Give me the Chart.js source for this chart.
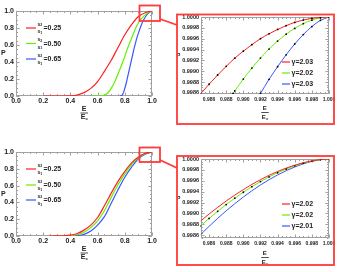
<!DOCTYPE html>
<html><head><meta charset="utf-8">
<script src="https://cdn.jsdelivr.net/npm/chart.js@4"></script>
<style>
html,body{margin:0;padding:0;background:#fff;}
#wrap{position:relative;width:340px;height:272px;overflow:hidden;background:#fff;}
canvas{position:absolute;}
svg{position:absolute;left:0;top:0;pointer-events:none;}
</style></head><body>
<div id="wrap">
<canvas id="c1" width="170" height="136" style="left:0;top:0"></canvas>
<canvas id="c2" width="170" height="136" style="left:170px;top:0"></canvas>
<canvas id="c3" width="170" height="136" style="left:0;top:136px"></canvas>
<canvas id="c4" width="170" height="136" style="left:170px;top:136px"></canvas>
<svg width="340" height="272" viewBox="0 0 340 272">
  <g fill="none" stroke="#ff3a3a" stroke-width="1.8">
    <rect x="139.5" y="5.5" width="20.5" height="15.5"/>
    <line x1="160" y1="19" x2="177" y2="25"/>
    <rect x="177" y="14.5" width="157" height="109.5"/>
    <rect x="139.5" y="147.5" width="20.5" height="14.5"/>
    <line x1="160" y1="160" x2="177" y2="168"/>
    <rect x="177" y="156" width="157" height="109"/>
  </g>
</svg>
</div>
<script>
// ---------- data ----------
const mainXTicks = [0.0, 0.2, 0.4, 0.6, 0.8, 1.0];
const mainYTicks = [0.0, 0.2, 0.4, 0.6, 0.8, 1.0];
const insetXTicks = [0.986, 0.988, 0.990, 0.992, 0.994, 0.996, 0.998, 1.000];
const insetYTicks = [0.9986, 0.9988, 0.9990, 0.9992, 0.9994, 0.9996, 0.9998, 1.0000];

const ratioLabels = ['=0.25', '=0.50', '=0.65'];
const gammaTop = ['\u03b3=2.03', '\u03b3=2.02', '\u03b3=2.03'];
const gammaBottom = ['\u03b3=2.02', '\u03b3=2.02', '\u03b3=2.01'];

// top-left panel
const tlRedE = [0.2, 0.3, 0.4, 0.45, 0.5, 0.55, 0.6, 0.65, 0.7, 0.75, 0.8, 0.85, 0.9, 0.95, 1.0];
const tlRedP = [0, 0, 0.002, 0.012, 0.04, 0.09, 0.17, 0.29, 0.42, 0.57, 0.72, 0.84, 0.935, 0.98, 1.0];
const tlGreenE = [0.557, 0.6, 0.64, 0.67, 0.7, 0.73, 0.76, 0.79, 0.82, 0.85, 0.88, 0.91, 0.94, 0.97, 1.0];
const tlGreenP = [0, 0, 0.005, 0.03, 0.09, 0.18, 0.3, 0.42, 0.56, 0.68, 0.8, 0.885, 0.94, 0.98, 1.0];
const tlBlueE = [0.765, 0.78, 0.79, 0.8, 0.81, 0.82, 0.83, 0.84, 0.85, 0.86, 0.87, 0.88, 0.89, 0.9, 0.92, 0.94, 0.96, 0.98, 1.0];
const tlBlueP = [0, 0.01, 0.04, 0.09, 0.15, 0.22, 0.29, 0.36, 0.43, 0.5, 0.57, 0.63, 0.69, 0.74, 0.83, 0.9, 0.95, 0.985, 1.0];

// top-right inset
const trRedE = [0.985, 0.986, 0.987, 0.988, 0.989, 0.990, 0.991, 0.992, 0.993, 0.994, 0.995, 0.996, 0.997, 0.998, 0.999, 1.000];
const trRedP = [0.99858, 0.99876, 0.99893, 0.99909, 0.99924, 0.99937, 0.99949, 0.9996, 0.99969, 0.99977, 0.99984, 0.9999, 0.999943, 0.999975, 0.999994, 1.0];
const trGreenE = [0.9888, 0.989, 0.990, 0.991, 0.992, 0.993, 0.994, 0.995, 0.996, 0.997, 0.998, 0.999, 1.000];
const trGreenP = [0.99859, 0.998636, 0.998856, 0.999059, 0.999243, 0.999409, 0.999556, 0.999683, 0.99979, 0.999877, 0.999942, 0.999984, 1.0];
const trBlueE = [0.992, 0.993, 0.994, 0.995, 0.996, 0.997, 0.998, 0.999, 1.000];
const trBlueP = [0.99859, 0.99885, 0.999084, 0.999303, 0.999502, 0.999676, 0.999824, 0.999938, 1.0];

// bottom-left panel
const blRedE = [0.245, 0.3, 0.35, 0.4, 0.45, 0.5, 0.55, 0.6, 0.65, 0.7, 0.75, 0.8, 0.85, 0.9, 0.95, 1.0];
const blRedP = [0, 0.0003, 0.002, 0.01, 0.03, 0.07, 0.13, 0.22, 0.36, 0.51, 0.65, 0.77, 0.87, 0.94, 0.985, 1.0];
const blGreenE = [0.3, 0.35, 0.4, 0.45, 0.5, 0.55, 0.6, 0.65, 0.7, 0.75, 0.8, 0.85, 0.9, 0.95, 1.0];
const blGreenP = [0, 0.001, 0.004, 0.015, 0.045, 0.1, 0.18, 0.3, 0.46, 0.61, 0.74, 0.85, 0.93, 0.98, 1.0];
const blBlueE = [0.35, 0.4, 0.45, 0.5, 0.55, 0.6, 0.65, 0.7, 0.75, 0.8, 0.85, 0.9, 0.95, 1.0];
const blBlueP = [0, 0.001, 0.005, 0.02, 0.06, 0.13, 0.23, 0.39, 0.55, 0.7, 0.82, 0.92, 0.975, 1.0];

// bottom-right inset
const brE = [0.985, 0.986, 0.987, 0.988, 0.989, 0.990, 0.991, 0.992, 0.993, 0.994, 0.995, 0.996, 0.997, 0.998, 0.999, 1.000];
const brRedP = [0.99886, 0.99899, 0.999112, 0.999229, 0.999338, 0.999439, 0.999534, 0.99962, 0.9997, 0.999771, 0.999833, 0.999887, 0.999932, 0.999967, 0.99999, 1.0];
const brGreenP = [0.99877, 0.998909, 0.999039, 0.999164, 0.999281, 0.99939, 0.999492, 0.999585, 0.999671, 0.999748, 0.999816, 0.999875, 0.999924, 0.999962, 0.999989, 1.0];
const brBlueP = [0.99861, 0.998764, 0.99891, 0.999049, 0.99918, 0.999302, 0.999417, 0.999523, 0.99962, 0.999707, 0.999785, 0.999853, 0.99991, 0.999955, 0.999986, 1.0];

// ---------- styling ----------
const RED = '#ff1f1f', GREEN = '#66ee00', BLUE = '#3a55ff';
const FAM = '"Liberation Sans", Arial, sans-serif';
const pts = (xs, ys) => xs.map((v, i) => ({x: v, y: ys[i]}));

function ds(xs, ys, color, w, dots) {
  return {
    data: pts(xs, ys), borderColor: color, borderWidth: w, fill: false,
    cubicInterpolationMode: 'monotone',
    pointRadius: dots ? 0.9 : 0, pointBorderWidth: 0,
    pointBackgroundColor: '#000', pointHoverRadius: 0
  };
}

const frameTicks = {
  id: 'frameTicks',
  beforeDatasetsDraw(chart, args, o) {
    const {ctx, chartArea: a, scales: {x, y}} = chart;
    ctx.save();
    ctx.strokeStyle = '#a0a0a0';
    ctx.lineWidth = 1;
    const L = Math.round(a.left) + 0.5, R = Math.round(a.right) - 0.5;
    const T = Math.round(a.top) + 0.5, B = Math.round(a.bottom) - 0.5;
    ctx.strokeRect(L, T, R - L, B - T);
    ctx.beginPath();
    const seg = (x1, y1, x2, y2) => { ctx.moveTo(x1, y1); ctx.lineTo(x2, y2); };
    const xTick = (v, len) => { const p = Math.round(x.getPixelForValue(v)) + 0.5; seg(p, B, p, B - len); seg(p, T, p, T + len); };
    const yTick = (v, len) => { const p = Math.round(y.getPixelForValue(v)) + 0.5; seg(L, p, L + len, p); seg(R, p, R - len, p); };
    const eps = 1e-9;
    for (let k = Math.ceil(x.min / o.xMinor - eps); k * o.xMinor <= x.max + eps; k++) xTick(k * o.xMinor, 1.5);
    for (let k = Math.ceil(y.min / o.yMinor - eps); k * o.yMinor <= y.max + eps; k++) yTick(k * o.yMinor, 1.5);
    x.ticks.forEach(t => xTick(t.value, 3));
    y.ticks.forEach(t => yTick(t.value, 3));
    ctx.stroke();
    ctx.restore();
  }
};

const deco = {
  id: 'deco',
  afterDraw(chart, args, o) {
    const {ctx, chartArea: a} = chart;
    ctx.save();
    ctx.fillStyle = '#222';
    ctx.textBaseline = 'middle';
    // P label
    ctx.font = 'bold ' + o.pFont + 'px ' + FAM;
    ctx.textAlign = 'left';
    ctx.fillText('P', o.pX, (a.top + a.bottom) / 2);
    // fraction E / E_c
    const cx = (a.left + a.right) / 2;
    ctx.textAlign = 'center';
    ctx.font = 'bold ' + o.fFont + 'px ' + FAM;
    ctx.fillText('E', cx, a.bottom + o.fE);
    ctx.fillText('E', cx - 1, a.bottom + o.fEc);
    ctx.font = 'bold ' + (o.fFont * 0.6) + 'px ' + FAM;
    ctx.fillText('c', cx + 2.6, a.bottom + o.fEc + 1.5);
    ctx.strokeStyle = '#222'; ctx.lineWidth = 0.8;
    ctx.beginPath(); ctx.moveTo(cx - 3.5, a.bottom + o.fBar); ctx.lineTo(cx + 4, a.bottom + o.fBar); ctx.stroke();
    // legend
    const colors = [RED, GREEN, BLUE];
    o.legY.forEach((ly, i) => {
      ctx.strokeStyle = colors[i]; ctx.lineWidth = 1.2;
      ctx.beginPath(); ctx.moveTo(o.legX, ly); ctx.lineTo(o.legX + o.legLen, ly); ctx.stroke();
      let tx = o.legX + o.legLen + 1.5;
      ctx.textAlign = 'left';
      if (o.frac) {
        ctx.fillStyle = '#222';
        ctx.font = 'bold 5px ' + FAM;
        ctx.fillText('s', tx, ly - 3.5);
        ctx.fillText('s', tx, ly + 4);
        ctx.font = 'bold 3.5px ' + FAM;
        ctx.fillText('2', tx + 2.8, ly - 2.5);
        ctx.fillText('1', tx + 2.8, ly + 5);
        tx += 6;
      }
      ctx.fillStyle = '#222';
      ctx.font = 'bold ' + o.legFont + 'px ' + FAM;
      ctx.fillText(o.labels[i], tx, ly + 0.5);
    });
    ctx.restore();
  }
};

function makeChart(id, datasets, s) {
  new Chart(document.getElementById(id), {
    type: 'line',
    data: {datasets},
    plugins: [frameTicks, deco],
    options: {
      responsive: false, animation: false, devicePixelRatio: 1,
      layout: {padding: {left: 0, right: s.padR, top: s.padT, bottom: 0}},
      plugins: {legend: {display: false}, tooltip: {enabled: false},
        frameTicks: {xMinor: s.xMinor, yMinor: s.yMinor}, deco: s.deco},
      scales: {
        x: {
          type: 'linear', min: s.xMin, max: s.xMax,
          afterBuildTicks: sc => { sc.ticks = s.xTicks.map(v => ({value: v})); },
          afterFit: sc => { sc.height = s.xH; },
          grid: {display: false, drawTicks: false, tickLength: 0}, border: {display: false},
          ticks: {autoSkip: false, maxRotation: 0, padding: s.xPad, color: '#222',
            font: {family: FAM, size: s.xFont, weight: 'bold'},
            callback: v => Number(v).toFixed(s.xDec)}
        },
        y: {
          type: 'linear', min: s.yMin, max: s.yMax,
          afterBuildTicks: sc => { sc.ticks = s.yTicks.map(v => ({value: v})); },
          afterFit: sc => { sc.width = s.yW; },
          grid: {display: false, drawTicks: false, tickLength: 0}, border: {display: false},
          ticks: {autoSkip: false, padding: s.yPad, color: '#222',
            font: {family: FAM, size: s.yFont, weight: 'bold'},
            callback: v => Number(v).toFixed(s.yDec)}
        }
      }
    }
  });
}

const mainBase = {xMin: 0, xMax: 1, yMin: 0, yMax: 1, xTicks: mainXTicks, yTicks: mainYTicks,
  xMinor: 0.05, yMinor: 0.05, padR: 18, yW: 16, xPad: 1, yPad: 2, xFont: 7, yFont: 7, xDec: 1, yDec: 1};
const insetBase = {xMin: 0.985, xMax: 1.0, xTicks: insetXTicks, yTicks: insetYTicks,
  xMinor: 0.0005, yMinor: 0.00005, padR: 11, yW: 30.5, xPad: 3, yPad: 1.5, xFont: 5, yFont: 5.5, xDec: 3, yDec: 4};

makeChart('c1', [ds(tlRedE, tlRedP, RED, 1.2), ds(tlGreenE, tlGreenP, GREEN, 1.2), ds(tlBlueE, tlBlueP, BLUE, 1.2)],
  Object.assign({}, mainBase, {padT: 11, xH: 40,
    deco: {pX: 1, pFont: 7, fFont: 7, fE: 13, fBar: 17, fEc: 21.5, legX: 26, legLen: 10, legY: [28, 43.5, 59], legFont: 7, frac: true, labels: ratioLabels}}));

makeChart('c3', [ds(blRedE, blRedP, RED, 1.2), ds(blGreenE, blGreenP, GREEN, 1.2), ds(blBlueE, blBlueP, BLUE, 1.2)],
  Object.assign({}, mainBase, {padT: 16, xH: 36,
    deco: {pX: 1, pFont: 7, fFont: 7, fE: 13, fBar: 17, fEc: 21.5, legX: 26, legLen: 10, legY: [33, 49, 64], legFont: 7, frac: true, labels: ratioLabels}}));

makeChart('c2', [ds(trRedE, trRedP, RED, 1, true), ds(trGreenE, trGreenP, GREEN, 1, true), ds(trBlueE, trBlueP, BLUE, 1, true)],
  Object.assign({}, insetBase, {yMin: 0.99858, yMax: 1.0, padT: 17, xH: 42,
    deco: {pX: 7, pFont: 5, fFont: 6, fE: 14.5, fBar: 18.5, fEc: 23, legX: 112, legLen: 8, legY: [62, 73, 84], legFont: 7, frac: false, labels: gammaTop}}));

makeChart('c4', [ds(brE, brRedP, RED, 1), ds(brE, brGreenP, GREEN, 1, true), ds(brE, brBlueP, BLUE, 1)],
  Object.assign({}, insetBase, {yMin: 0.99855, yMax: 1.0, padT: 23, xH: 34,
    deco: {pX: 7, pFont: 5, fFont: 6, fE: 15.5, fBar: 19.5, fEc: 24, legX: 112, legLen: 8, legY: [68, 79, 90], legFont: 7, frac: false, labels: gammaBottom}}));
</script>
</body></html>
